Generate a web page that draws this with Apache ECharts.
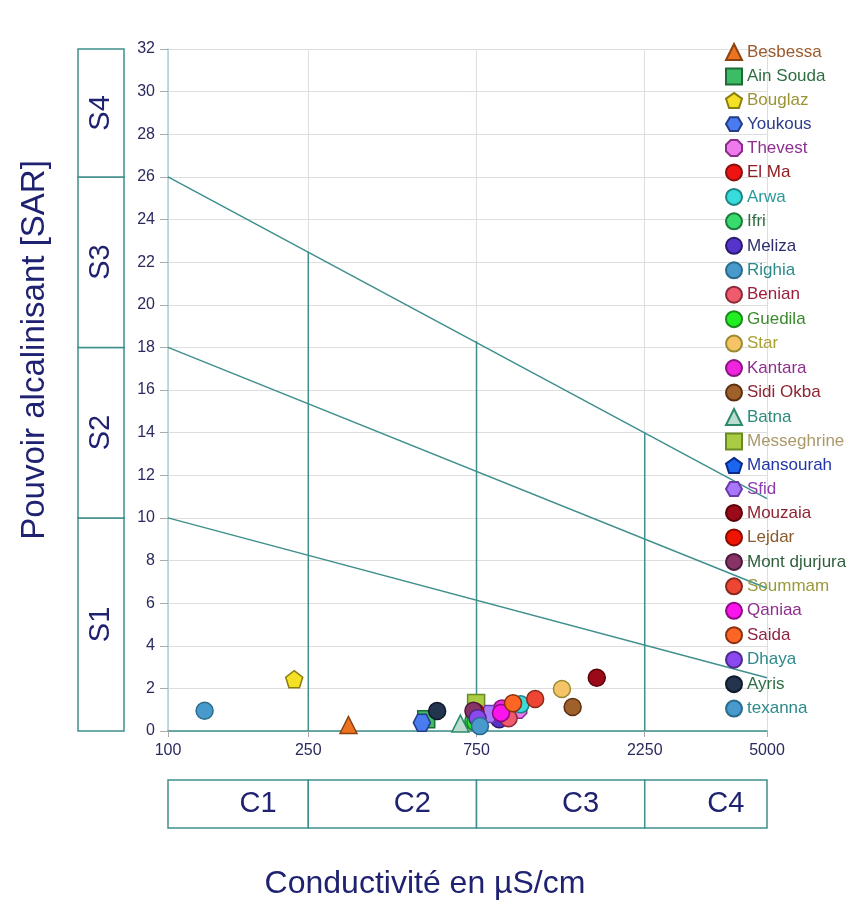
<!DOCTYPE html>
<html>
<head>
<meta charset="utf-8">
<script src="https://cdn.jsdelivr.net/npm/echarts@6/dist/echarts.min.js"></script>
<style>
  html, body { margin: 0; padding: 0; background: #fff; }
  #chart { width: 852px; height: 906px; }
</style>
</head>
<body>
<div id="chart"></div>
<script>
// stations and their readings (EC in µS/cm, SAR)
const stations = ['Besbessa', 'Ain Souda', 'Bouglaz', 'Youkous', 'Thevest', 'El Ma', 'Arwa', 'Ifri', 'Meliza', 'Righia',
  'Benian', 'Guedila', 'Star', 'Kantara', 'Sidi Okba', 'Batna', 'Messeghrine', 'Mansourah', 'Sfid', 'Mouzaia',
  'Lejdar', 'Mont djurjura', 'Soummam', 'Qaniaa', 'Saida', 'Dhaya', 'Ayris', 'texanna']
const conductivity = [325, 540, 228, 525, 985, 740, 1000, 735, 870, 127,
  925, 745, 1310, 885, 1405, 675, 748, 760, 815, 1645,
  745, 735, 1100, 880, 952, 755, 580, 767]
const sar = [0.28, 0.55, 2.43, 0.39, 1.0, 0.75, 1.25, 0.45, 0.55, 0.95,
  0.6, 0.4, 1.97, 1.05, 1.13, 0.35, 1.31, 0.6, 0.8, 2.5,
  0.9, 0.95, 1.5, 0.85, 1.3, 0.6, 0.94, 0.23]

const pentagon = 'path://M0,-1 L0.951,-0.309 L0.588,0.809 L-0.588,0.809 L-0.951,-0.309 Z'
const hexagon = 'path://M-1,0 L-0.5,-0.866 L0.5,-0.866 L1,0 L0.5,0.866 L-0.5,0.866 Z'
const octagon = 'path://M-0.38,-0.92 L0.38,-0.92 L0.92,-0.38 L0.92,0.38 L0.38,0.92 L-0.38,0.92 L-0.92,0.38 L-0.92,-0.38 Z'
const symbols = ['triangle', 'rect', pentagon, hexagon, octagon, 'circle', 'circle', 'circle', 'circle', 'circle',
  'circle', 'circle', 'circle', 'circle', 'circle', 'triangle', 'rect', pentagon, hexagon, 'circle',
  'circle', 'circle', 'circle', 'circle', 'circle', 'circle', 'circle', 'circle']
const fillColors = ['#ec7420', '#3cbc64', '#f4e024', '#4a7cf0', '#ee7aee', '#ee1414', '#38dcdc', '#38dc6c', '#5534cc', '#4899cc',
  '#ef5a6c', '#22ee22', '#f4c466', '#ee24de', '#a0602c', '#bcdcd0', '#aacc44', '#1a66ee', '#a878fc', '#9a0a18',
  '#ee1400', '#883366', '#ee4634', '#fc14ec', '#fc6624', '#8a48ee', '#22344e', '#4899cc']
const borderColors = ['#8a4212', '#1e6a36', '#8a7e10', '#243c8a', '#8a2e8a', '#8a1010', '#1c8484', '#1c7a3c', '#2a1a6a', '#2a6a8a',
  '#8a2a3a', '#1a8a1a', '#9a8a30', '#8a1480', '#5a3010', '#2a8a6a', '#6a8a22', '#0a2a8a', '#6a3aaa', '#5a0008',
  '#8a0a00', '#4a1a3a', '#8a2a1a', '#8a0a84', '#8a3010', '#4a2a8a', '#10182a', '#2a6a8a']
const labelColors = ['#9a5a2c', '#2e6e42', '#9a9436', '#2e3c8c', '#8e2e8e', '#8e1c22', '#2c9a9a', '#2e6e42', '#2e2e6e', '#2c8a8a',
  '#9c1c3c', '#3a8a2c', '#aaa034', '#8e2e8e', '#8e2432', '#2c8a7c', '#aa9a6a', '#2234aa', '#8c3cac', '#8e2432',
  '#8a5a2c', '#2e5e3c', '#9a9a3c', '#8e2e8e', '#8e2442', '#2c8a8a', '#2e6e42', '#2c8a8a']

const xTicks = [100, 250, 750, 2250, 5000]
const salinityClasses = ['C1', 'C2', 'C3', 'C4']
const salinityBounds = [100, 250, 750, 2250, 5000]
const sodiumClasses = ['S1', 'S2', 'S3', 'S4']
const sodiumBounds = [0, 10, 18, 26, 32]
// diagonal hazard boundaries, read at both ends
const hazardLines = [
  [[100, 26], [5000, 10.9]],
  [[100, 18], [5000, 6.7]],
  [[100, 10], [5000, 2.5]]
]
// vertical class boundaries up to the top diagonal
const classLines = [
  [[250, 0], [250, 22.5]],
  [[750, 0], [750, 18.3]],
  [[2250, 0], [2250, 14]]
]

const teal = '#3f8f8c'
const navy = '#1f2270'
const chart = echarts.init(document.getElementById('chart'))

const lineSeries = hazardLines.concat(classLines).map((pts) => ({
  type: 'line',
  xAxisIndex: 0,
  yAxisIndex: 0,
  data: pts,
  symbol: 'none',
  silent: true,
  lineStyle: { color: teal, width: 1.5 },
  z: 3
}))

const pointSeries = stations.map((name, i) => ({
  type: 'scatter',
  name: name,
  xAxisIndex: 0,
  yAxisIndex: 0,
  data: [[conductivity[i], sar[i]]],
  symbol: symbols[i],
  symbolSize: 17,
  itemStyle: { color: fillColors[i], borderColor: borderColors[i], borderWidth: 1.5, opacity: 1 },
  z: 5
}))

const option = {
  animation: false,
  grid: [
    { left: 168, top: 49, width: 599, height: 682 },
    { left: 78, top: 49, width: 46, height: 682 },
    { left: 168, top: 780, width: 599, height: 48 }
  ],
  xAxis: [
    {
      gridIndex: 0,
      type: 'log',
      logBase: 10,
      min: 100,
      max: 5000,
      axisLine: { lineStyle: { color: teal, width: 1.5 } },
      axisTick: { show: true, customValues: xTicks, length: 6, lineStyle: { color: '#aaa' } },
      axisLabel: { customValues: xTicks, formatter: (v) => String(v), color: '#2a2a5e', fontSize: 16, margin: 12, fontFamily: 'Liberation Sans' },
      splitLine: { show: true, lineStyle: { color: '#dedede' } },
      minorSplitLine: { show: false }
    },
    { gridIndex: 1, type: 'value', min: 0, max: 1, show: false },
    { gridIndex: 2, type: 'log', logBase: 10, min: 100, max: 5000, show: false }
  ],
  yAxis: [
    {
      gridIndex: 0,
      type: 'value',
      min: 0,
      max: 32,
      interval: 2,
      axisLine: { show: true, lineStyle: { color: '#a9d2d0', width: 1.5 } },
      axisTick: { show: true, length: 8, lineStyle: { color: '#aaa' } },
      axisLabel: { color: '#2a2a5e', fontSize: 16, margin: 13, fontFamily: 'Liberation Sans' },
      splitLine: { show: true, lineStyle: { color: '#dedede' } }
    },
    { gridIndex: 1, type: 'value', min: 0, max: 32, show: false },
    { gridIndex: 2, type: 'value', min: 0, max: 1, show: false }
  ],
  legend: {
    orient: 'vertical',
    left: 720,
    top: 38,
    itemWidth: 16,
    itemHeight: 16,
    itemGap: 6.45,
    textStyle: { fontSize: 17, fontFamily: 'Liberation Sans' },
    data: stations.map((n, i) => ({ name: n, textStyle: { color: labelColors[i] } }))
  },
  graphic: [
    {
      type: 'text',
      x: 35,
      y: 350,
      rotation: Math.PI / 2,
      style: { text: 'Pouvoir alcalinisant [SAR]', fontSize: 33, fill: navy, align: 'center', verticalAlign: 'middle', fontFamily: 'Liberation Sans' }
    },
    {
      type: 'text',
      x: 425,
      y: 884,
      style: { text: 'Conductivité en µS/cm', fontSize: 32, fill: navy, align: 'center', verticalAlign: 'middle', fontFamily: 'Liberation Sans' }
    }
  ],
  series: [
    ...lineSeries,
    ...pointSeries,
    {
      type: 'custom',
      xAxisIndex: 1,
      yAxisIndex: 1,
      encode: { y: [0, 1] },
      silent: true,
      data: sodiumClasses.map((c, i) => [sodiumBounds[i], sodiumBounds[i + 1]]),
      renderItem: (params, api) => {
        const p0 = api.coord([0, api.value(1)])
        const p1 = api.coord([1, api.value(0)])
        return {
          type: 'group',
          children: [
            { type: 'rect', shape: { x: p0[0], y: p0[1], width: p1[0] - p0[0], height: p1[1] - p0[1] },
              style: { fill: '#fff', stroke: teal, lineWidth: 1.5 } },
            { type: 'text', x: (p0[0] + p1[0]) / 2, y: (p0[1] + p1[1]) / 2, rotation: Math.PI / 2,
              style: { text: sodiumClasses[params.dataIndex], fontSize: 29, fill: navy, align: 'center', verticalAlign: 'middle', fontFamily: 'Liberation Sans' } }
          ]
        }
      }
    },
    {
      type: 'custom',
      xAxisIndex: 2,
      yAxisIndex: 2,
      encode: { x: [0, 1] },
      silent: true,
      data: salinityClasses.map((c, i) => [salinityBounds[i], salinityBounds[i + 1]]),
      renderItem: (params, api) => {
        const p0 = api.coord([api.value(0), 1])
        const p1 = api.coord([api.value(1), 0])
        return {
          type: 'group',
          children: [
            { type: 'rect', shape: { x: p0[0], y: p0[1], width: p1[0] - p0[0], height: p1[1] - p0[1] },
              style: { fill: '#fff', stroke: teal, lineWidth: 1.5 } },
            { type: 'text', x: (p0[0] + p1[0]) / 2 + 20, y: (p0[1] + p1[1]) / 2,
              style: { text: salinityClasses[params.dataIndex], fontSize: 29, fill: navy, align: 'center', verticalAlign: 'middle', fontFamily: 'Liberation Sans' } }
          ]
        }
      }
    }
  ]
}

chart.setOption(option)
</script>
</body>
</html>
